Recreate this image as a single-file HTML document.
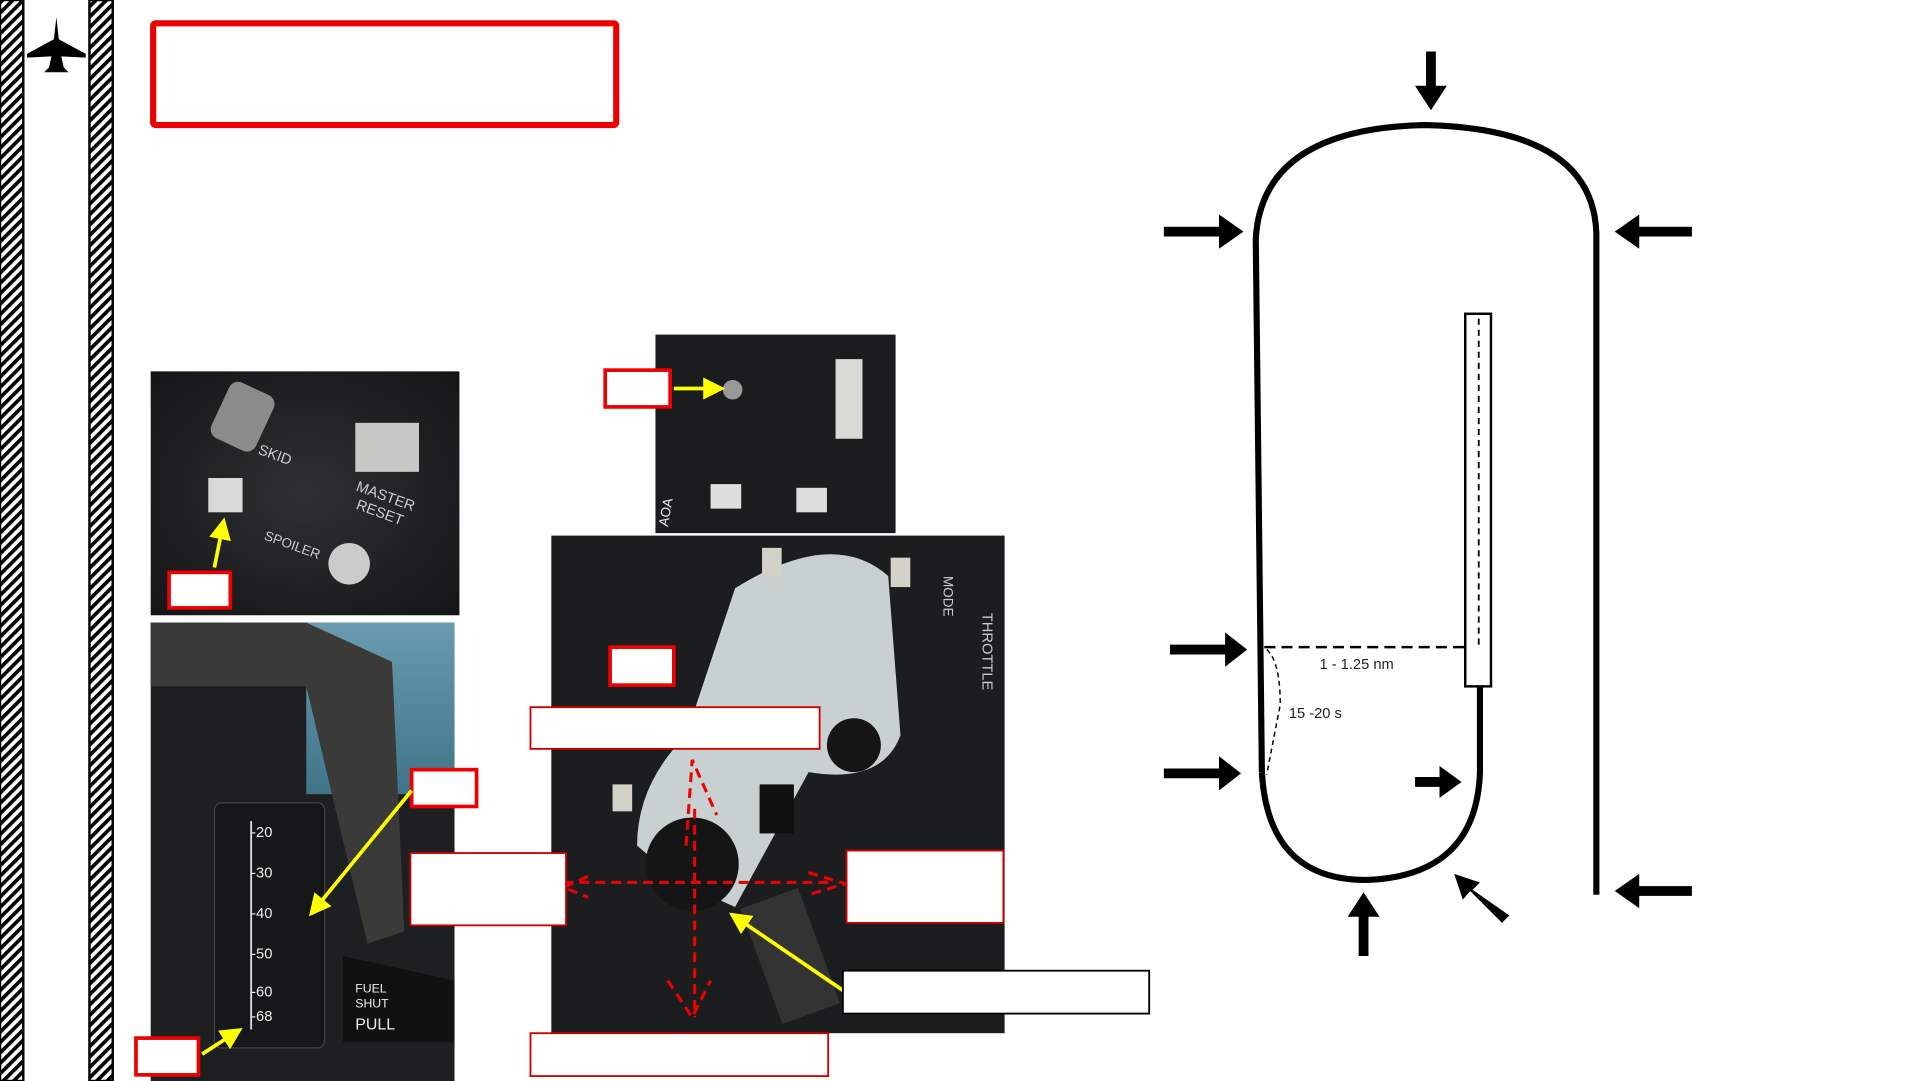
<!DOCTYPE html>
<html><head><meta charset="utf-8"><style>
html,body{margin:0;padding:0;background:#fff;width:1921px;height:1081px;overflow:hidden}
svg{display:block}
text{font-family:"Liberation Sans",sans-serif}
</style></head><body>
<svg width="1921" height="1081" viewBox="0 0 1568 882" preserveAspectRatio="none">
<defs>
<pattern id="hatch" width="6" height="6" patternUnits="userSpaceOnUse" patternTransform="rotate(45)">
<rect width="6" height="6" fill="#fff"/><rect width="3" height="6" fill="#000"/></pattern>
<marker id="ya" markerWidth="6" markerHeight="6" refX="4" refY="3" orient="auto"><path d="M0,0 L6,3 L0,6 z" fill="#ffff00"/></marker>
<radialGradient id="dk" cx="50%" cy="50%" r="70%"><stop offset="0" stop-color="#2e3032"/><stop offset="1" stop-color="#141516"/></radialGradient>
<linearGradient id="sea" x1="0" y1="0" x2="0" y2="1"><stop offset="0" stop-color="#6a9bb0"/><stop offset="1" stop-color="#3f7488"/></linearGradient>
</defs>

<!-- side bars -->
<rect x="0" y="0" width="19" height="882" fill="url(#hatch)" stroke="#000" stroke-width="2"/>
<rect x="73" y="0" width="19" height="882" fill="url(#hatch)" stroke="#000" stroke-width="2"/>
<path d="M46,14 L48,32 L70,44 L70,47 L50,46 L52,55 L56,59 L36,59 L40,55 L42,46 L22,47 L22,44 L44,32 Z" fill="#000"/>

<rect x="125" y="19" width="378" height="83" fill="#fff" stroke="#e00" stroke-width="5" rx="2"/>

<!-- photo 1 -->
<g>
<rect x="123" y="303" width="252" height="199" fill="url(#dk)"/>
<rect x="178" y="315" width="40" height="50" rx="8" fill="#8a8c8a" transform="rotate(25 198 340)"/>
<rect x="290" y="345" width="52" height="40" fill="#c8c8c4"/>
<rect x="170" y="390" width="28" height="28" fill="#d8d8d4"/>
<circle cx="285" cy="460" r="17" fill="#c8ccca"/>
<text x="210" y="370" fill="#ccc" font-size="12" transform="rotate(20 210 370)">SKID</text>
<text x="290" y="400" fill="#ccc" font-size="12" transform="rotate(20 290 400)">MASTER</text>
<text x="290" y="415" fill="#ccc" font-size="12" transform="rotate(20 290 415)">RESET</text>
<text x="215" y="440" fill="#ccc" font-size="11" transform="rotate(20 215 440)">SPOILER</text>
</g>
<rect x="138" y="467" width="50" height="29" fill="#fff" stroke="#e00" stroke-width="3"/>
<line x1="175" y1="463" x2="182" y2="428" stroke="#ff0" stroke-width="3" marker-end="url(#ya)"/>

<!-- photo 2 -->
<g>
<rect x="123" y="508" width="248" height="374" fill="#1e1f20"/>
<rect x="250" y="508" width="121" height="140" fill="url(#sea)"/>
<path d="M123,508 L250,508 L320,540 L330,760 L300,770 L250,560 L123,560 Z" fill="#3a3a38"/>
<rect x="175" y="655" width="90" height="200" rx="6" fill="#161718" stroke="#444"/>
<line x1="205" y1="670" x2="205" y2="840" stroke="#ddd" stroke-width="1.5"/>
<text x="205" y="683" fill="#eee" font-size="12">-20</text>
<text x="205" y="716" fill="#eee" font-size="12">-30</text>
<text x="205" y="749" fill="#eee" font-size="12">-40</text>
<text x="205" y="782" fill="#eee" font-size="12">-50</text>
<text x="205" y="813" fill="#eee" font-size="12">-60</text>
<text x="205" y="833" fill="#eee" font-size="12">-68</text>
<path d="M280,780 L371,800 L371,850 L280,850 Z" fill="#111"/>
<text x="290" y="810" fill="#eee" font-size="10">FUEL</text>
<text x="290" y="822" fill="#eee" font-size="10">SHUT</text>
<text x="290" y="840" fill="#eee" font-size="13">PULL</text>
</g>
<rect x="336" y="628" width="53" height="30" fill="#fff" stroke="#e00" stroke-width="3"/>
<line x1="336" y1="645" x2="256" y2="743" stroke="#ff0" stroke-width="3" marker-end="url(#ya)"/>
<rect x="111" y="847" width="51" height="30" fill="#fff" stroke="#e00" stroke-width="3"/>
<line x1="165" y1="860" x2="193" y2="842" stroke="#ff0" stroke-width="3" marker-end="url(#ya)"/>

<!-- photo 3 -->
<g>
<rect x="535" y="273" width="196" height="162" fill="#1b1c1d"/>
<rect x="682" y="293" width="22" height="65" fill="#d8d8d4"/>
<circle cx="598" cy="318" r="8" fill="#999"/>
<rect x="580" y="395" width="25" height="20" fill="#ddd"/><rect x="650" y="398" width="25" height="20" fill="#ddd"/>
<text x="545" y="430" fill="#eee" font-size="11" transform="rotate(-80 545 430)">AOA</text>
</g>
<rect x="494" y="302" width="53" height="30" fill="#fff" stroke="#e00" stroke-width="3"/>
<line x1="550" y1="317" x2="586" y2="317" stroke="#ff0" stroke-width="3" marker-end="url(#ya)"/>

<!-- photo 4 -->
<g>
<rect x="450" y="437" width="370" height="406" fill="#1c1d1f"/>
<path d="M600,480 Q680,430 725,470 L735,600 Q720,640 660,630 L600,740 L555,720 L520,690 Q520,640 560,600 Z" fill="#c9d0d0"/>
<circle cx="565" cy="705" r="38" fill="#151515"/>
<circle cx="697" cy="608" r="22" fill="#151515"/>
<rect x="620" y="640" width="28" height="40" fill="#111"/>
<rect x="620" y="730" width="50" height="100" fill="#333" transform="rotate(-20 645 780)"/>
<g fill="#d2d2c8"><rect x="622" y="447" width="16" height="24"/><rect x="727" y="455" width="16" height="24"/><rect x="500" y="640" width="16" height="22"/></g>
<text x="770" y="470" fill="#ccc" font-size="11" transform="rotate(90 770 470)">MODE</text>
<text x="802" y="500" fill="#ccc" font-size="12" transform="rotate(90 802 500)">THROTTLE</text>
<g fill="none" stroke="#e00" stroke-width="2.5" stroke-dasharray="8,5">
<line x1="567" y1="660" x2="567" y2="830"/><line x1="460" y1="720" x2="680" y2="720"/>
<path d="M560,690 L565,620 L585,665"/><path d="M545,800 L565,830 L580,800"/>
<path d="M480,715 L460,724 L480,732"/><path d="M660,712 L690,721 L660,730"/></g>
</g>
<rect x="524" y="640" width="0" height="0"/>
<rect x="498" y="528" width="52" height="31" fill="#fff" stroke="#e00" stroke-width="3"/>
<rect x="433" y="577" width="236" height="34" fill="#fff" stroke="#c00" stroke-width="1.5"/>
<rect x="335" y="696" width="127" height="59" fill="#fff" stroke="#c00" stroke-width="1.5"/>
<rect x="691" y="694" width="128" height="59" fill="#fff" stroke="#c00" stroke-width="1.5"/>
<rect x="433" y="843" width="243" height="35" fill="#fff" stroke="#c00" stroke-width="1.5"/>
<line x1="688" y1="808" x2="600" y2="748" stroke="#ff0" stroke-width="3" marker-end="url(#ya)"/>
<rect x="688" y="792" width="250" height="35" fill="#fff" stroke="#000" stroke-width="1.5"/>

<!-- pattern diagram -->
<g fill="none" stroke="#000" stroke-width="5">
<path d="M1030,630 L1025,195 Q1030,105 1163,102 Q1300,105 1303,190 L1303,730"/>
<path d="M1030,630 Q1035,718 1115,718 Q1205,715 1208,630 L1208,560"/>
</g>
<rect x="1196" y="256" width="21" height="304" fill="none" stroke="#000" stroke-width="2"/>
<line x1="1207" y1="260" x2="1207" y2="530" stroke="#000" stroke-width="1.5" stroke-dasharray="5,4"/>
<line x1="1032" y1="528" x2="1200" y2="528" stroke="#000" stroke-width="2" stroke-dasharray="9,5"/>
<path d="M1034,530 Q1045,540 1045,575 Q1040,600 1034,632" fill="none" stroke="#000" stroke-width="1.2" stroke-dasharray="4,3"/>
<text x="1077" y="546" font-size="12" fill="#222">1 - 1.25 nm</text>
<text x="1052" y="586" font-size="12" fill="#222">15 -20 s</text>
<g fill="#000">
<path d="M1164,42 h8 v28 h9 l-13,20 l-13,-20 h9 z"/>
<path d="M950,185 h45 v-10 l20,14 l-20,14 v-10 h-45 z"/>
<path d="M1381,185 h-43 v-10 l-20,14 l20,14 v-10 h43 z"/>
<path d="M955,526 h45 v-10 l18,14 l-18,14 v-10 h-45 z"/>
<path d="M950,627 h45 v-10 l18,14 l-18,14 v-10 h-45 z"/>
<path d="M1155,634 h20 v-9 l18,13 l-18,13 v-9 h-20 z"/>
<path d="M1109,780 h8 v-32 h9 l-13,-20 l-13,20 h9 z"/>
<path d="M1381,723 h-43 v-10 l-20,14 l20,14 v-10 h43 z"/>
<path d="M1232,747 l-6,6 l-26,-26 l-6,7 l-7,-21 l21,7 l-6,6 z"/>
</g>
</svg>
</body></html>
